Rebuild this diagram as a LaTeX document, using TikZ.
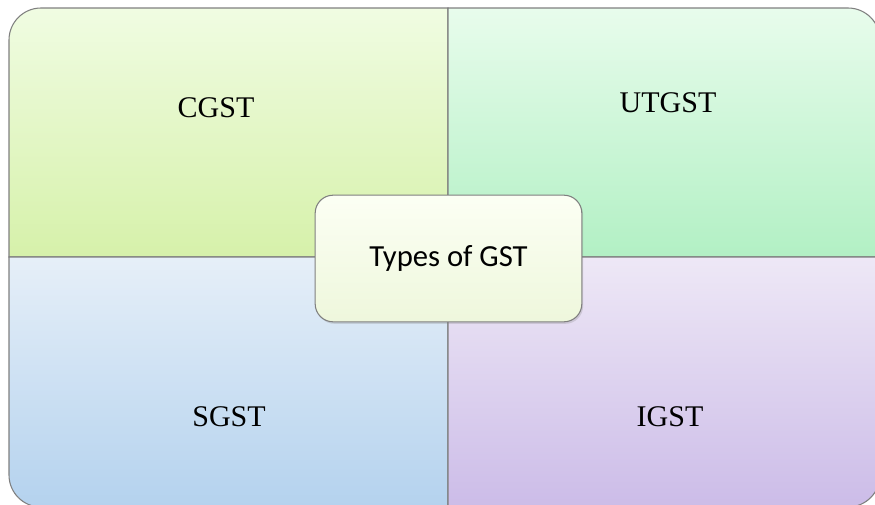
\documentclass[tikz,border=0pt]{standalone}
\usepackage{fontspec}
\setmainfont{Liberation Serif}
\newfontfamily\calfont{Carlito}
\usetikzlibrary{shadows,positioning}
\definecolor{edgegray}{HTML}{7F7F7F}

\begin{document}
\begin{tikzpicture}[x=0.75pt, y=-0.75pt,
  quad/.style = {draw=edgegray, line width=0.8pt},
  lbl/.style = {font=\fontsize{22.5}{27}\selectfont, anchor=base, inner sep=0pt},
  hub/.style = {draw=edgegray, line width=0.8pt, rounded corners=13.5pt,
                top color={rgb,255:red,252;green,255;blue,244}, bottom color={rgb,255:red,238;green,247;blue,220},
                minimum width=200pt, minimum height=95pt,
                font=\calfont\fontsize{23}{28}\selectfont,
                drop shadow={opacity=0.25, shadow xshift=1pt, shadow yshift=-1.5pt}}]
\useasboundingbox (0,0) rectangle (875,504);

% quadrants
\path[quad, top color={rgb,255:red,240;green,252;blue,226}, bottom color={rgb,255:red,214;green,241;blue,170}]
  (9,257) [rounded corners=24pt] -- (9,8) [sharp corners] -- (448,8) -- (448,257) -- cycle;
\path[quad, top color={rgb,255:red,232;green,252;blue,236}, bottom color={rgb,255:red,178;green,240;blue,196}]
  (448,257) -- (448,8) [rounded corners=24pt] -- (880,8) [sharp corners] -- (880,257) -- cycle;
\path[quad, top color={rgb,255:red,230;green,239;blue,248}, bottom color={rgb,255:red,180;green,210;blue,238}]
  (448,257) -- (9,257) [rounded corners=24pt] -- (9,507) [sharp corners] -- (448,507) -- cycle;
\path[quad, top color={rgb,255:red,238;green,232;blue,246}, bottom color={rgb,255:red,204;green,188;blue,232}]
  (448,257) -- (448,507) [rounded corners=24pt] -- (880,507) [sharp corners] -- (880,257) -- cycle;

\node[lbl] (cgst) at (216,117) {CGST};
\node[lbl] (utgst) at (668,112) {UTGST};
\node[lbl] (sgst) at (229,426) {SGST};
\node[lbl] (igst) at (670,426) {IGST};

\node[hub] (types) at (448.5,258.5) {Types of GST};
\end{tikzpicture}
\end{document}
